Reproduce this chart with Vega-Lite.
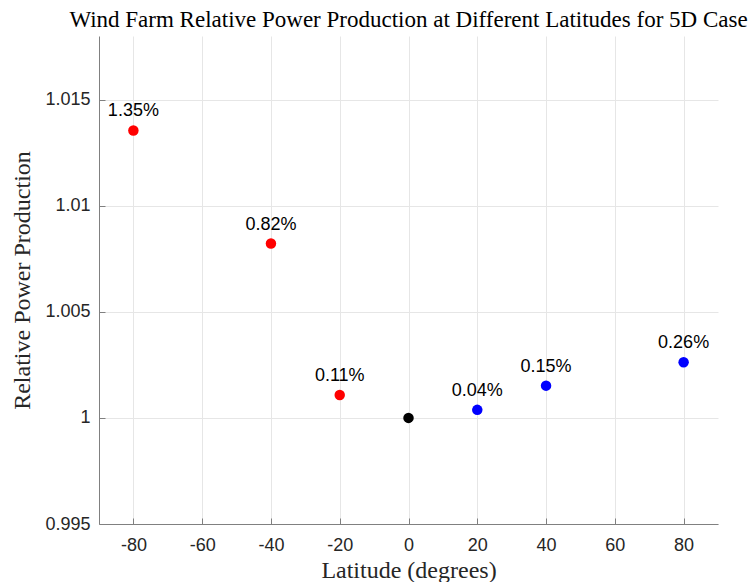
{
  "$schema": "https://vega.github.io/schema/vega-lite/v6.json",
  "width": 619,
  "height": 488,
  "autosize": "none",
  "padding": {"left": 99, "top": 36, "right": 31, "bottom": 58},
  "background": "white",
  "title": {
    "text": "Wind Farm Relative Power Production at Different Latitudes for 5D Case",
    "font": "Liberation Serif",
    "fontSize": 23,
    "fontWeight": "normal",
    "color": "black",
    "anchor": "middle",
    "baseline": "alphabetic",
    "offset": -14
  },
  "config": {
    "view": {"stroke": null},
    "axis": {
      "labelFont": "Liberation Sans",
      "labelFontSize": 18,
      "labelColor": "#262626",
      "titleFont": "Liberation Serif",
      "titleFontSize": 24,
      "titleFontWeight": "normal",
      "titleColor": "#262626",
      "domainColor": "#808080",
      "tickColor": "#808080",
      "gridColor": "#e6e6e6",
      "gridWidth": 1,
      "domainWidth": 1
    }
  },
  "data": {
    "values": [
      {"latitude": -80, "relative": 1.01355, "label": "1.35%", "group": "south"},
      {"latitude": -40, "relative": 1.00822, "label": "0.82%", "group": "south"},
      {"latitude": -20, "relative": 1.00108, "label": "0.11%", "group": "south"},
      {"latitude": 0, "relative": 1.0, "label": "", "group": "equator"},
      {"latitude": 20, "relative": 1.00038, "label": "0.04%", "group": "north"},
      {"latitude": 40, "relative": 1.00152, "label": "0.15%", "group": "north"},
      {"latitude": 80, "relative": 1.00262, "label": "0.26%", "group": "north"}
    ]
  },
  "encoding": {
    "x": {
      "field": "latitude",
      "type": "quantitative",
      "scale": {"domain": [-90, 90], "nice": false, "zero": false},
      "axis": {
        "title": "Latitude (degrees)",
        "values": [-80, -60, -40, -20, 0, 20, 40, 60, 80],
        "labelExpr": "datum.value < 0 ? '-' + abs(datum.value) : '' + datum.value",
        "tickSize": -6,
        "labelPadding": 18,
        "titlePadding": 4
      }
    },
    "y": {
      "field": "relative",
      "type": "quantitative",
      "scale": {"domain": [0.995, 1.018], "nice": false, "zero": false},
      "axis": {
        "title": "Relative Power Production",
        "values": [0.995, 1, 1.005, 1.01, 1.015],
        "format": ".4~f",
        "tickSize": -6,
        "labelPadding": 15,
        "titlePadding": 10
      }
    }
  },
  "layer": [
    {
      "mark": {"type": "circle", "size": 110, "opacity": 1},
      "encoding": {
        "color": {
          "field": "group",
          "type": "nominal",
          "scale": {"domain": ["south", "equator", "north"], "range": ["#ff0000", "#000000", "#0000ff"]},
          "legend": null
        }
      }
    },
    {
      "mark": {"type": "text", "dy": -19, "font": "Liberation Sans", "fontSize": 18, "color": "black", "baseline": "middle", "align": "center"},
      "encoding": {"text": {"field": "label"}}
    }
  ]
}
